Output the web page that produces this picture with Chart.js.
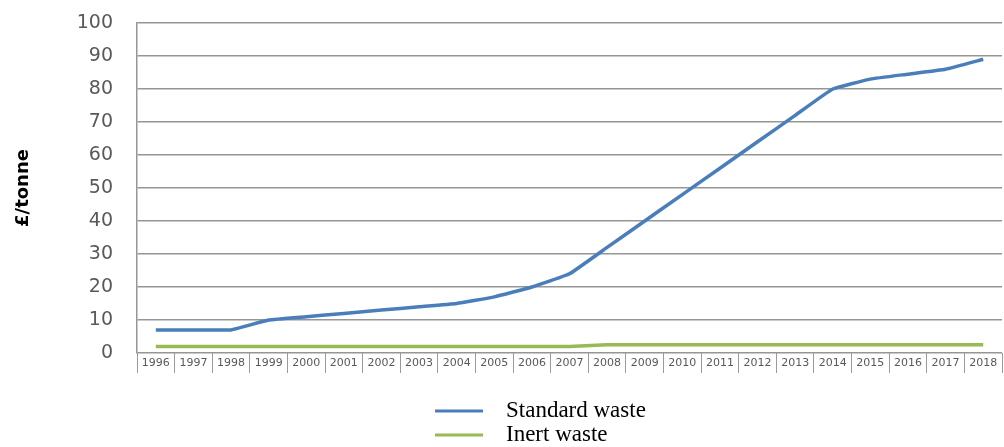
<!DOCTYPE html>
<html>
<head>
<meta charset="utf-8">
<script src="https://cdn.jsdelivr.net/npm/chart.js@4/dist/chart.umd.min.js"></script>
<style>
  html, body { margin: 0; padding: 0; background: #fff; }
  #wrap { width: 1004px; height: 447px; position: relative; }
</style>
</head>
<body>
<div id="wrap"><canvas id="chart" width="1004" height="447"></canvas></div>
<script>
// Landfill tax rates, £ per tonne
const years = ['1996','1997','1998','1999','2000','2001','2002','2003','2004','2005','2006','2007',
               '2008','2009','2010','2011','2012','2013','2014','2015','2016','2017','2018'];
const standardWaste = [7, 7, 7, 10, 11, 12, 13, 14, 15, 17, 20, 24,
                       32, 40, 48, 56, 64, 72, 80, 83, 84.5, 86, 89];
const inertWaste = [2, 2, 2, 2, 2, 2, 2, 2, 2, 2, 2, 2,
                    2.5, 2.5, 2.5, 2.5, 2.5, 2.5, 2.5, 2.5, 2.5, 2.5, 2.5];
const seriesNames = ['Standard waste', 'Inert waste'];
const seriesColors = ['#4a7ebb', '#98b954'];
const yAxisTitle = '£/tonne';

// Two-row legend drawn beneath the axis
const stackedLegend = {
  id: 'stackedLegend',
  afterDraw(chart) {
    const ctx = chart.ctx;
    ctx.save();
    chart.data.datasets.forEach((ds, i) => {
      const y = 411 + i * 24;
      ctx.strokeStyle = ds.borderColor;
      ctx.lineWidth = 3;
      ctx.beginPath();
      ctx.moveTo(435, y);
      ctx.lineTo(483, y);
      ctx.stroke();
      ctx.fillStyle = '#000';
      ctx.font = '23px "Liberation Serif", "Times New Roman", serif';
      ctx.textBaseline = 'middle';
      ctx.textAlign = 'left';
      ctx.fillText(ds.label, 506, y);
    });
    ctx.restore();
  }
};

new Chart(document.getElementById('chart'), {
  type: 'line',
  data: {
    labels: years,
    datasets: [
      { label: seriesNames[0], data: standardWaste, borderColor: seriesColors[0], borderWidth: 3.5,
        pointRadius: 0, tension: 0.1, borderJoinStyle: 'round', fill: false },
      { label: seriesNames[1], data: inertWaste, borderColor: seriesColors[1], borderWidth: 3.5,
        pointRadius: 0, fill: false, tension: 0 }
    ]
  },
  options: {
    responsive: false,
    animation: false,
    layout: { padding: { left: 7, right: 2, top: 23, bottom: 74 } },
    plugins: { legend: { display: false }, tooltip: { enabled: false } },
    scales: {
      x: {
        offset: true,
        grid: { offset: true, drawOnChartArea: false, drawTicks: true, tickLength: 20, color: '#9a9a9a', lineWidth: 1 },
        border: { display: false },
        ticks: { padding: -16, maxRotation: 0, autoSkip: false, color: '#595959',
                 font: { family: '"DejaVu Sans", Verdana, sans-serif', size: 11 } },
        afterFit(scale) { scale.height = 20; scale.paddingLeft = 0; scale.paddingRight = 0; }
      },
      y: {
        min: 0, max: 100,
        grid: { drawTicks: false, color: '#969696', lineWidth: 1.5 },
        border: { display: true, color: '#969696', width: 1.5 },
        ticks: { stepSize: 10, padding: 24, color: '#595959',
                 font: { family: '"DejaVu Sans", Verdana, sans-serif', size: 19 } },
        title: { display: true, text: yAxisTitle, color: '#000', padding: { top: 6, bottom: 0 },
                 font: { family: '"DejaVu Sans", Verdana, sans-serif', size: 18, weight: 'bold' } },
        afterFit(scale) { scale.width = 130; scale.paddingTop = 0; scale.paddingBottom = 0; }
      }
    }
  },
  plugins: [stackedLegend]
});
</script>
</body>
</html>
